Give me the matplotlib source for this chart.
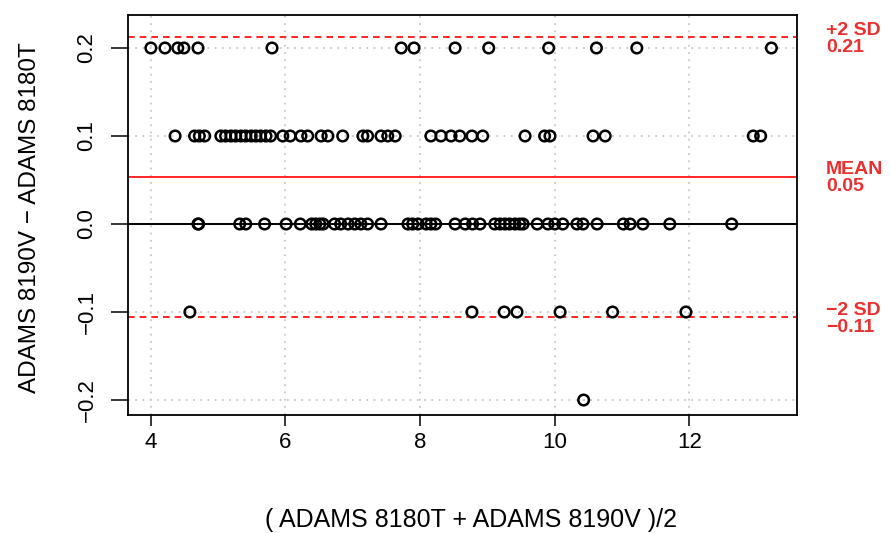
import numpy as np
import matplotlib
matplotlib.use("Agg")
import matplotlib.pyplot as plt

plt.rcParams['font.family'] = ['Liberation Sans', 'DejaVu Sans']

# differences, grouped by row
x_p02 = [4.00, 4.21, 4.40, 4.49, 4.70, 5.80, 7.72, 7.91, 8.52, 9.02, 9.91, 10.62, 11.22, 13.22]
x_p01 = [4.36, 4.65, 4.72, 4.80, 5.04, 5.11, 5.19, 5.26, 5.34, 5.41, 5.49, 5.56, 5.63, 5.71,
         5.78, 5.96, 6.07, 6.23, 6.33, 6.53, 6.63, 6.85, 7.15, 7.22, 7.42, 7.52, 7.63, 8.16,
         8.31, 8.46, 8.59, 8.77, 8.93, 9.56, 9.85, 9.93, 10.57, 10.75, 12.95, 13.06]
x_00 = [4.70, 4.71, 5.32, 5.41, 5.69, 6.01, 6.22, 6.39, 6.45, 6.51, 6.56, 6.73, 6.82, 6.93,
        7.03, 7.12, 7.22, 7.42, 7.82, 7.89, 7.97, 8.09, 8.16, 8.23, 8.52, 8.67, 8.78, 8.89,
        9.11, 9.19, 9.26, 9.33, 9.41, 9.48, 9.53, 9.74, 9.90, 10.00, 10.12, 10.33, 10.42,
        10.63, 11.02, 11.12, 11.31, 11.71, 12.63]
x_m01 = [4.58, 8.77, 9.25, 9.44, 10.08, 10.86, 11.95]
x_m02 = [10.43]

mean_diff = 0.0535
upper = 0.212
lower = -0.106
labels = [("+2 SD", "0.21", upper), ("MEAN", "0.05", mean_diff), ("\u22122 SD", "\u22120.11", lower)]

means = np.array(x_p02 + x_p01 + x_00 + x_m01 + x_m02)
diffs = np.array([0.2] * len(x_p02) + [0.1] * len(x_p01) + [0.0] * len(x_00)
                 + [-0.1] * len(x_m01) + [-0.2] * len(x_m02))

fig = plt.figure(figsize=(8.9, 5.33), dpi=100)
ax = fig.add_axes([0.1438, 0.2214, 0.7517, 0.7505])

ax.set_xlim(3.66, 13.6)
ax.set_ylim(-0.217, 0.2375)
ax.set_xticks([4, 6, 8, 10, 12])
ax.set_yticks([-0.2, -0.1, 0.0, 0.1, 0.2])
ax.grid(True, color='#c8c8c8', linestyle=(0, (1, 3)), linewidth=1.3)
ax.set_axisbelow(True)

ax.axhline(0, color='black', linewidth=1.4, zorder=1)
ax.axhline(mean_diff, color='red', linewidth=1.2, zorder=1)
ax.axhline(upper, color='red', linewidth=1.2, linestyle=(0, (4, 3)), zorder=1)
ax.axhline(lower, color='red', linewidth=1.2, linestyle=(0, (4, 3)), zorder=1)

ax.scatter(means, diffs, s=58, facecolors='none', edgecolors='black', linewidths=1.8, zorder=3)

tr = ax.get_yaxis_transform()
for top, bottom, yv in labels:
    ax.annotate(top, (1.043, yv), xycoords=tr, xytext=(0, 5), textcoords='offset points',
                color='#e83030', fontsize=14, fontweight='bold', va='center', ha='left',
                annotation_clip=False)
    ax.annotate(bottom, (1.043, yv), xycoords=tr, xytext=(0, -7), textcoords='offset points',
                color='#e83030', fontsize=14, fontweight='bold', va='center', ha='left',
                annotation_clip=False)

ax.set_yticklabels(['\u22120.2', '\u22120.1', '0.0', '0.1', '0.2'], rotation=90, va='center')
ax.tick_params(labelsize=16, width=1.1)
ax.tick_params(axis='x', length=8, pad=4)
ax.tick_params(axis='y', length=12, pad=10)
for s in ax.spines.values():
    s.set_linewidth(1.3)

fig.text(471 / 890, 1 - 520 / 533, '( ADAMS 8180T + ADAMS 8190V )/2', fontsize=18,
         ha='center', va='center')
fig.text(30 / 890, 1 - 218 / 533, 'ADAMS 8190V \u2212 ADAMS 8180T', fontsize=17.5,
         rotation=90, ha='center', va='center')

fig.savefig('out.png', dpi=100)
